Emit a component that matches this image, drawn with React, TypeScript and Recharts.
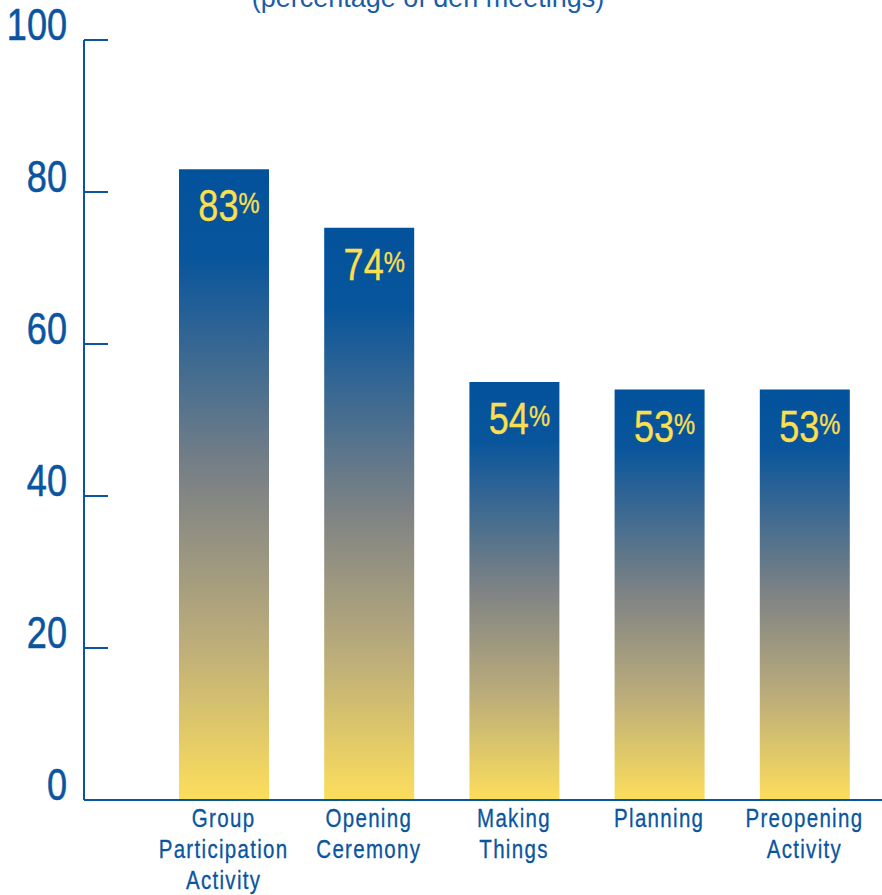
import { BarChart, Bar, XAxis, YAxis, LabelList } from "recharts";

const CATEGORIES = [
  ["Group", "Participation", "Activity"],
  ["Opening", "Ceremony"],
  ["Making", "Things"],
  ["Planning"],
  ["Preopening", "Activity"],
];
const BAR_VALUES = [83, 75.3, 55, 54, 54];
const BAR_LABELS = ["83", "74", "54", "53", "53"];
const Y_TICKS = [0, 20, 40, 60, 80, 100];
const TITLE = "(percentage of den meetings)";

const BLUE = "#0a55a0";
const YELLOW = "#fadf4e";
const SANS = "'Liberation Sans', Arial, sans-serif";
// no narrow face installed, so squeeze Liberation Sans horizontally
const SQUEEZE = 0.82;

const data = CATEGORIES.map((lines, i) => ({
  key: String(i),
  value: BAR_VALUES[i],
  label: BAR_LABELS[i],
}));

function YTick(props: any) {
  const { x, y, payload } = props;
  return (
    <g>
      <line x1={x} x2={x + 24} y1={y} y2={y} stroke={BLUE} strokeWidth={2} />
      <text
        transform={`translate(${x - 17},${y}) scale(${SQUEEZE},1)`}
        textAnchor="end"
        fill={BLUE}
        stroke={BLUE}
        strokeWidth={0.6}
        fontSize={44}
        fontFamily={SANS}
      >
        {payload.value}
      </text>
    </g>
  );
}

function XTick(props: any) {
  const { x, y, payload } = props;
  const lines = CATEGORIES[Number(payload.value)] || [];
  return (
    <g transform={`translate(${x},${y}) scale(${SQUEEZE},1)`}>
      <text
        textAnchor="middle"
        fill={BLUE}
        stroke={BLUE}
        strokeWidth={0.3}
        fontSize={25}
        fontFamily={SANS}
        letterSpacing={1.6}
      >
        {lines.map((l, i) => (
          <tspan key={i} x={0} y={27 + i * 31}>
            {l}
          </tspan>
        ))}
      </text>
    </g>
  );
}

function BarValue(props: any) {
  const { x, y, width, index } = props;
  return (
    <text
      transform={`translate(${x + width / 2 + 5},${y + 52}) scale(${SQUEEZE},1)`}
      textAnchor="middle"
      fill={YELLOW}
      stroke={YELLOW}
      strokeWidth={0.4}
      fontFamily={SANS}
    >
      <tspan fontSize={44}>{BAR_LABELS[index]}</tspan>
      <tspan fontSize={29} dy={-8}>%</tspan>
    </text>
  );
}

export default function App() {
  return (
    <div style={{ position: "absolute", left: 0, top: 0, width: 882, height: 895, background: "#fff" }}>
      <BarChart width={882} height={895} data={data} margin={{ top: 40, right: 0, left: 0, bottom: 0 }}>
        <defs>
          <linearGradient id="barGrad" x1="0" y1="0" x2="0" y2="1">
            <stop offset="0" stopColor="#02529b" />
            <stop offset="0.14" stopColor="#08559c" />
            <stop offset="0.5" stopColor="#7f8384" />
            <stop offset="0.75" stopColor="#bcad7a" />
            <stop offset="1" stopColor="#fcde5c" />
          </linearGradient>
        </defs>
        <XAxis
          dataKey="key"
          interval={0}
          height={95}
          padding={{ left: 67, right: 5 }}
          tickSize={0}
          tickMargin={0}
          tickLine={false}
          axisLine={{ stroke: BLUE, strokeWidth: 2 }}
          tick={<XTick />}
        />
        <YAxis
          width={84}
          domain={[0, 100]}
          ticks={Y_TICKS}
          tickSize={0}
          tickMargin={0}
          tickLine={false}
          axisLine={{ stroke: BLUE, strokeWidth: 2 }}
          tick={<YTick />}
        />
        <Bar dataKey="value" barSize={90} fill="url(#barGrad)" isAnimationActive={false}>
          <LabelList dataKey="label" content={<BarValue />} />
        </Bar>
      </BarChart>
      <svg width={882} height={30} style={{ position: "absolute", left: 0, top: 0 }}>
        <text x={428} y={7} textAnchor="middle" fill="#1a5ea8" fontSize={27} fontFamily={SANS}>
          {TITLE}
        </text>
      </svg>
    </div>
  );
}
